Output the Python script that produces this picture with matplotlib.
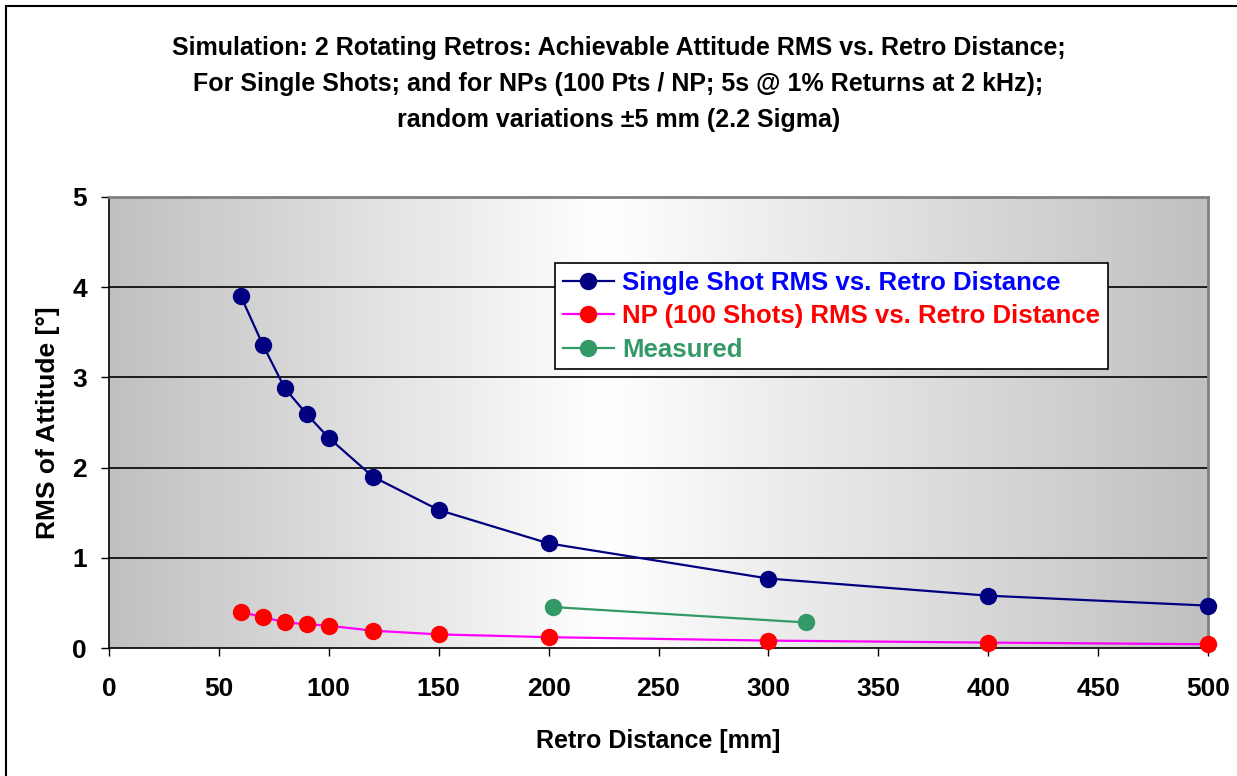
import numpy as np
import matplotlib
matplotlib.use("Agg")
import matplotlib.pyplot as plt
from matplotlib.patches import Rectangle

plt.rcParams['font.family'] = ['Liberation Sans', 'DejaVu Sans']

# Data
distance = [60, 70, 80, 90, 100, 120, 150, 200, 300, 400, 500]
single_shot_rms = [3.90, 3.36, 2.88, 2.59, 2.33, 1.90, 1.53, 1.16, 0.77, 0.58, 0.47]
np_rms = [0.40, 0.343, 0.285, 0.263, 0.247, 0.192, 0.151, 0.12, 0.082, 0.06, 0.042]
measured_distance = [202, 317]
measured_rms = [0.454, 0.283]

title = ("Simulation: 2 Rotating Retros: Achievable Attitude RMS vs. Retro Distance;\n"
         "For Single Shots; and for NPs (100 Pts / NP; 5s @ 1% Returns at 2 kHz);\n"
         "random variations \u00b15 mm (2.2 Sigma)")
x_ticks = [0, 50, 100, 150, 200, 250, 300, 350, 400, 450, 500]
y_ticks = [0, 1, 2, 3, 4, 5]

W, H = 1237, 776
fig = plt.figure(figsize=(W / 100, H / 100), dpi=100)
fig.patch.set_facecolor('white')
ax = fig.add_axes([109 / W, 1 - 648 / H, (1208 - 109) / W, (648 - 197) / H])

# gradient background
xs = np.linspace(0, 1, 512)
g = np.interp(xs, [0, 0.45, 1], [192, 255, 192]) / 255.0
img = np.dstack([g, g, g]).repeat(2, axis=0)
ax.imshow(img, extent=[0, 1, 0, 1], transform=ax.transAxes, aspect='auto', zorder=0)

ax.set_xlim(0, 500)
ax.set_ylim(0, 5)
for yv in y_ticks[1:5]:
    ax.axhline(yv, color='black', lw=1.2, zorder=1)

ms = 11.5
ax.plot(distance, single_shot_rms, color='#000080', lw=1.6, marker='o', ms=ms,
        mfc='#000080', mec='#000080', zorder=3, clip_on=False,
        label='Single Shot RMS vs. Retro Distance')
ax.plot(distance, np_rms, color='#ff00ff', lw=1.6, marker='o', ms=ms,
        mfc='#ff0000', mec='#ff0000', zorder=3, clip_on=False,
        label='NP (100 Shots) RMS vs. Retro Distance')
ax.plot(measured_distance, measured_rms, color='#339966', lw=1.6, marker='o', ms=ms,
        mfc='#339966', mec='#339966', zorder=3, clip_on=False,
        label='Measured')

ax.set_xticks(x_ticks)
ax.set_yticks(y_ticks)
ax.tick_params(axis='both', direction='out', length=6, width=1, labelsize=19)
for lab in ax.get_xticklabels() + ax.get_yticklabels():
    lab.set_fontweight('bold')
ax.tick_params(axis='x', pad=15)
ax.tick_params(axis='y', pad=10)

for s in ['left', 'bottom']:
    ax.spines[s].set_color('black')
    ax.spines[s].set_linewidth(1.2)
for s in ['top', 'right']:
    ax.spines[s].set_color('#808080')
    ax.spines[s].set_linewidth(2)

ax.set_xlabel('Retro Distance [mm]', fontsize=18, fontweight='bold', labelpad=20)
ax.set_ylabel('RMS of Attitude [\u00b0]', fontsize=19, fontweight='bold', labelpad=9)

fig.text(0.5, 1 - 84 / H, title, ha='center', va='center',
         fontsize=18, fontweight='bold', linespacing=1.65)

leg = ax.legend(loc='upper left', bbox_to_anchor=((555 - 109) / 1099, 1 - (263 - 197) / 451),
                frameon=True, fancybox=False, edgecolor='black', framealpha=1,
                prop={'weight': 'bold', 'size': 18.5}, handlelength=2.0,
                handletextpad=0.3, borderpad=0.3, labelspacing=0.37, borderaxespad=0)
leg.get_frame().set_linewidth(1.2)
for txt, c in zip(leg.get_texts(), ['#0000ff', '#ff0000', '#339966']):
    txt.set_color(c)

fig.patches.append(Rectangle((6 / W, -0.1), 1.2, 1.1 - 6 / H,
                             transform=fig.transFigure, fill=False, edgecolor='black',
                             lw=1.5, zorder=10))

fig.savefig('out.png', dpi=100)
